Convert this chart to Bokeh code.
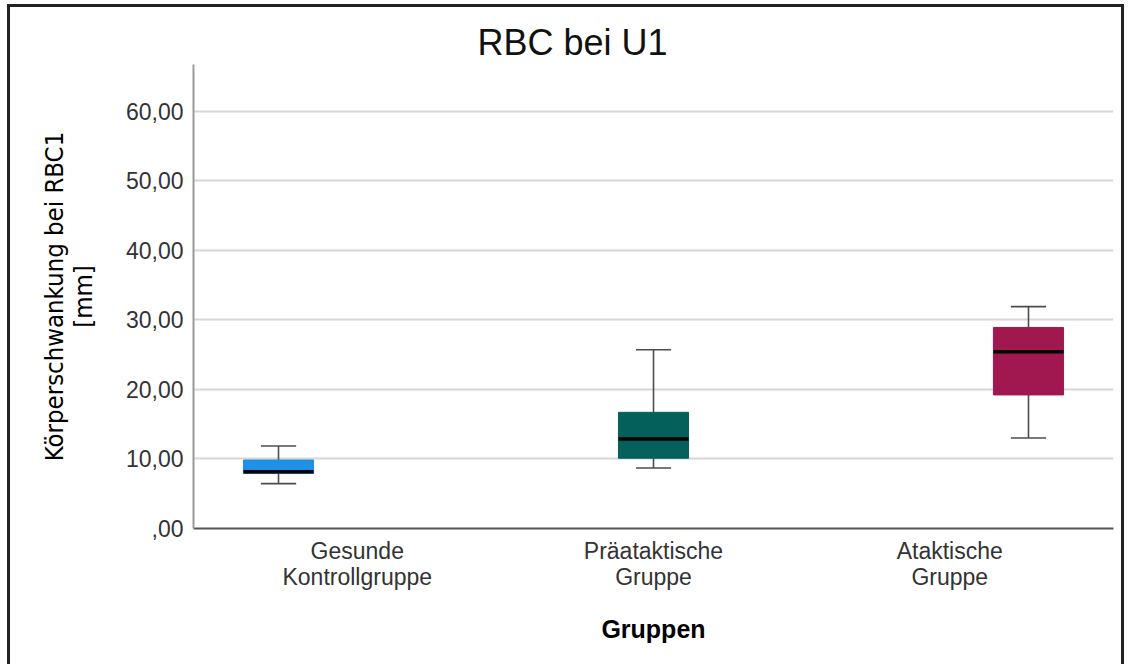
from bokeh.plotting import figure
from bokeh.models import FixedTicker, Range1d
from bokeh.embed import file_html
from bokeh.resources import INLINE

# ---- data ----
groups = ["Gesunde\nKontrollgruppe", "Präataktische\nGruppe", "Ataktische\nGruppe"]
lower_whisker = [6.45, 8.7, 13.0]
q1 = [7.9, 10.1, 19.2]
median = [8.15, 12.85, 25.4]
q3 = [9.85, 16.7, 28.9]
upper_whisker = [11.85, 25.7, 31.9]
box_colors = ["#1E90E6", "#03605B", "#A1174F"]
y_ticks = [0, 10, 20, 30, 40, 50, 60]
y_tick_labels = [",00", "10,00", "20,00", "30,00", "40,00", "50,00", "60,00"]
title_text = "RBC bei U1"
y_label = "Körperschwankung bei RBC1\n[mm]"
x_label = "Gruppen"

# ---- styling constants ----
BOX_W = 0.187
CAP_HALF = 0.047
FONT = "Liberation Sans"
NARROW = "'Liberation Sans Narrow', 'DejaVu Sans Condensed', 'Liberation Sans', sans-serif"

xs = list(range(len(groups)))

p = figure(width=1117, height=660, output_backend="svg", toolbar_location=None,
           x_range=Range1d(-0.2267, 2.2267), y_range=Range1d(0, 66.7),
           min_border_left=183, min_border_right=14, min_border_top=57,
           min_border_bottom=139)
p.styles = {"border-top": "3px solid #222222", "border-left": "3px solid #222222",
            "border-right": "3px solid #222222", "margin-left": "7px", "margin-top": "4px"}

p.title.text = title_text
p.title.align = "left"
p.title.offset = 284
p.title.text_font = FONT
p.title.text_font_style = "normal"
p.title.text_font_size = "36px"
p.title.text_color = "#111111"
p.title.standoff = 4

p.outline_line_color = None
p.background_fill_color = "white"
p.border_fill_color = "white"

# whisker stems
p.segment(xs, lower_whisker, xs, q1, line_color="#4d4d4d", line_width=1.6)
p.segment(xs, q3, xs, upper_whisker, line_color="#4d4d4d", line_width=1.6)
# caps
p.segment([x - CAP_HALF for x in xs], upper_whisker, [x + CAP_HALF for x in xs], upper_whisker,
          line_color="#4d4d4d", line_width=1.6)
p.segment([x - CAP_HALF for x in xs], lower_whisker, [x + CAP_HALF for x in xs], lower_whisker,
          line_color="#4d4d4d", line_width=1.6)
# boxes
p.vbar(x=xs, width=BOX_W, bottom=q1, top=q3, fill_color=box_colors,
       line_color=box_colors, line_width=1)
# medians
p.segment([x - BOX_W / 2 for x in xs], median, [x + BOX_W / 2 for x in xs], median,
          line_color="black", line_width=3.5)

# y axis
p.yaxis.ticker = FixedTicker(ticks=y_ticks)
p.yaxis.major_label_overrides = {t: l for t, l in zip(y_ticks, y_tick_labels)}
p.yaxis.major_tick_out = 0
p.yaxis.major_tick_in = 0
p.yaxis.minor_tick_line_color = None
p.yaxis.axis_line_color = "#9a9a9a"
p.yaxis.axis_line_width = 2
p.yaxis.major_label_text_font = FONT
p.yaxis.major_label_text_font_size = "23px"
p.yaxis.major_label_text_color = "#333333"
p.yaxis.major_label_standoff = 10
p.yaxis.axis_label = y_label
p.yaxis.axis_label_text_font = NARROW
p.yaxis.axis_label_text_font_style = "normal"
p.yaxis.axis_label_text_font_size = "25.5px"
p.yaxis.axis_label_text_color = "#000000"
p.yaxis.axis_label_text_line_height = 0.98
p.yaxis.axis_label_standoff = 25

# x axis: labels sit slightly toward the centre, as in the reference
label_pos = [i + (1 - i) * 0.21 for i in xs]
p.xaxis.ticker = FixedTicker(ticks=label_pos)
p.xaxis.major_label_overrides = {t: g for t, g in zip(label_pos, groups)}
p.xaxis.major_tick_out = 0
p.xaxis.major_tick_in = 0
p.xaxis.minor_tick_line_color = None
p.xaxis.axis_line_color = "#555555"
p.xaxis.axis_line_width = 2
p.xaxis.major_label_text_font = FONT
p.xaxis.major_label_text_font_size = "23px"
p.xaxis.major_label_text_color = "#333333"
p.xaxis.major_label_text_line_height = 1.02
p.xaxis.major_label_standoff = 9
p.xaxis.axis_label = x_label
p.xaxis.axis_label_text_font = FONT
p.xaxis.axis_label_text_font_style = "bold"
p.xaxis.axis_label_text_font_size = "25px"
p.xaxis.axis_label_text_color = "#000000"
p.xaxis.axis_label_standoff = 22

p.xgrid.visible = False
p.ygrid.ticker = FixedTicker(ticks=y_ticks[1:])
p.ygrid.grid_line_color = "#d6d6d6"
p.ygrid.grid_line_width = 2

open("out.html", "w").write(file_html(p, INLINE))
